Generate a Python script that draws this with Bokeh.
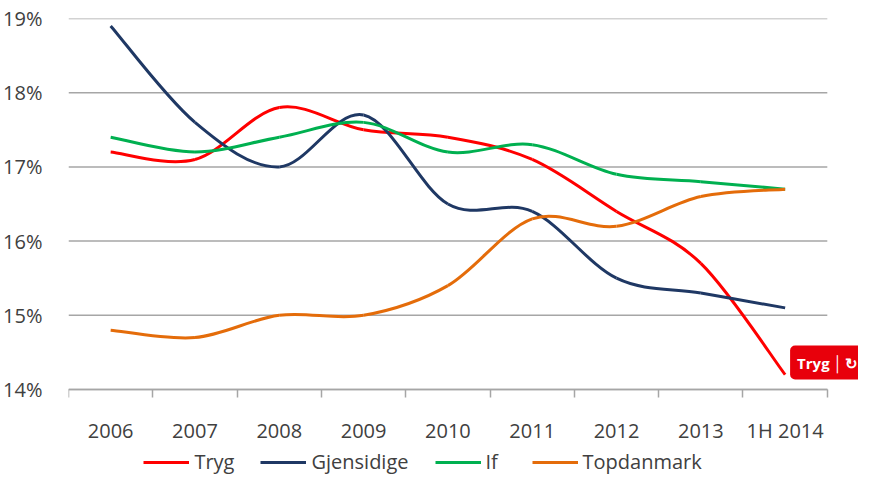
import numpy as np
from bokeh.plotting import figure
from bokeh.models import Range1d, FixedTicker, Legend, LegendItem, Label
from bokeh.embed import file_html
from bokeh.resources import INLINE

categories = ["2006", "2007", "2008", "2009", "2010", "2011", "2012", "2013", "1H 2014"]
tryg = [17.2, 17.1, 17.8, 17.5, 17.4, 17.1, 16.4, 15.7, 14.2]
gjensidige = [18.9, 17.6, 17.0, 17.7, 16.5, 16.4, 15.5, 15.3, 15.1]
if_vals = [17.4, 17.2, 17.4, 17.6, 17.2, 17.3, 16.9, 16.8, 16.7]
topdanmark = [14.8, 14.7, 15.0, 15.0, 15.4, 16.3, 16.2, 16.6, 16.7]
series_names = ["Tryg", "Gjensidige", "If", "Topdanmark"]
series_values = [tryg, gjensidige, if_vals, topdanmark]
series_colors = ["#FF0000", "#1F3864", "#00B050", "#E46C0A"]
y_ticks = [14, 15, 16, 17, 18, 19]

FONT = "Open Sans"
TXT = "#404040"
GRID = "#A6A6A6"
n_cat = len(categories)

p = figure(width=858, height=475, output_backend="svg", toolbar_location=None,
           x_range=Range1d(0, 9.370), y_range=Range1d(12.841, 19),
           min_border_left=68, min_border_right=0, min_border_top=18, min_border_bottom=0)
p.outline_line_color = None
p.background_fill_color = "white"
p.border_fill_color = "white"
p.xgrid.visible = False
p.ygrid.visible = False

# horizontal gridlines spanning only the category area
p.segment(x0=[0] * len(y_ticks), x1=[n_cat] * len(y_ticks), y0=y_ticks, y1=y_ticks,
          line_color=GRID, line_width=1.5)

xa = p.xaxis[0]
centers = [i + 0.5 for i in range(n_cat)]
xa.fixed_location = y_ticks[0]
xa.bounds = (0, n_cat)
xa.ticker = FixedTicker(ticks=centers, minor_ticks=list(range(n_cat + 1)))
xa.major_label_overrides = {c: lab for c, lab in zip(centers, categories)}
xa.major_tick_out = 0
xa.major_tick_in = 0
xa.minor_tick_out = 8
xa.minor_tick_in = 0
xa.minor_tick_line_color = GRID
xa.minor_tick_line_width = 1.5
xa.axis_line_color = GRID
xa.axis_line_width = 1.5
xa.major_label_standoff = 19
xa.major_label_text_font = FONT
xa.major_label_text_font_size = "20px"
xa.major_label_text_color = TXT

ya = p.yaxis[0]
ya.ticker = FixedTicker(ticks=y_ticks)
ya.major_label_overrides = {t: f"{t}%" for t in y_ticks}
ya.axis_line_color = None
ya.major_tick_line_color = None
ya.minor_tick_line_color = None
ya.major_label_standoff = 20
ya.major_label_text_font = FONT
ya.major_label_text_font_size = "20px"
ya.major_label_text_color = TXT


def bezier_parts(vals):
    x = np.arange(len(vals)) + 0.5
    y = np.array(vals, dtype=float)
    xp = np.concatenate([[x[0]], x, [x[-1]]])
    yp = np.concatenate([[y[0]], y, [y[-1]]])
    n = len(vals)
    t = 1.0 / 6.0
    cx0 = xp[1:n] + (xp[2:n + 1] - xp[0:n - 1]) * t
    cy0 = yp[1:n] + (yp[2:n + 1] - yp[0:n - 1]) * t
    cx1 = xp[2:n + 1] - (xp[3:n + 2] - xp[1:n]) * t
    cy1 = yp[2:n + 1] - (yp[3:n + 2] - yp[1:n]) * t
    return dict(x0=x[:-1], y0=y[:-1], x1=x[1:], y1=y[1:], cx0=cx0, cy0=cy0, cx1=cx1, cy1=cy1)


items = []
for name, vals, col in zip(series_names, series_values, series_colors):
    d = bezier_parts(vals)
    r = p.bezier(x0=d["x0"], y0=d["y0"], x1=d["x1"], y1=d["y1"],
                 cx0=d["cx0"], cy0=d["cy0"], cx1=d["cx1"], cy1=d["cy1"],
                 line_color=col, line_width=3)
    items.append(LegendItem(label=name, renderers=[r], index=0))

legend = Legend(items=items, orientation="horizontal", location=(75.4, 0),
                glyph_width=46, glyph_height=20, label_standoff=5, spacing=26,
                padding=0, margin=0, border_line_color=None, background_fill_alpha=0,
                label_text_font=FONT, label_text_font_size="20px", label_text_color=TXT)
p.add_layout(legend, "center")

logo = Label(x=721.6, y=96, x_units="screen", y_units="screen",
             text="Tryg\u2009\u2502\u2009\u21bb",
             text_font=FONT, text_font_style="bold", text_font_size="15px",
             text_color="white", text_align="left", text_baseline="bottom",
             background_fill_color="#E8000B", padding=7, border_radius=5)
p.add_layout(logo)

open("out.html", "w").write(file_html(p, INLINE))
